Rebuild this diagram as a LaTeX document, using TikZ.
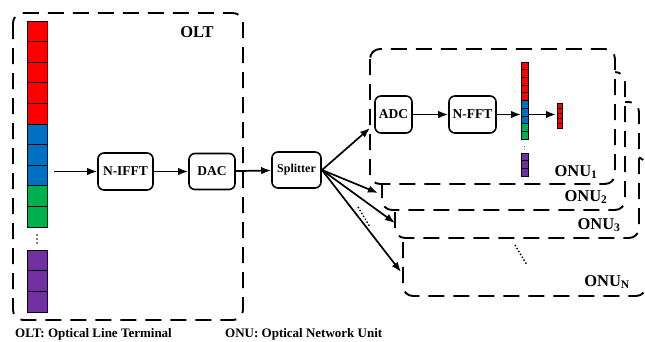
\documentclass[tikz,border=0pt]{standalone}
\usepackage{fontspec}
\setmainfont{Liberation Serif}
\usetikzlibrary{arrows.meta}
\definecolor{cred}{RGB}{255,0,0}
\definecolor{cblue}{RGB}{0,112,192}
\definecolor{cgreen}{RGB}{0,176,80}
\definecolor{cpurple}{RGB}{112,48,160}
\tikzset{
  dbox/.style={draw=black, line width=1.9pt, dash pattern=on 16pt off 9pt, rounded corners=10pt, fill=white},
  blk/.style={draw=black, line width=1.6pt, rounded corners=6pt, fill=white, inner sep=0pt,
    font=\bfseries\fontsize{13.5}{13.5}\selectfont},
  arr/.style={line width=1.7pt, -{Latex[length=10pt,width=7.5pt]}},
  cell/.style={draw=black, line width=0.8pt},
  lbl/.style={font=\bfseries\fontsize{16.5}{16.5}\selectfont, inner sep=0pt},
  foot/.style={font=\bfseries\fontsize{13}{13}\selectfont, inner sep=0pt, anchor=west},
}
\begin{document}
\begin{tikzpicture}[x=1pt,y=-1pt]
\useasboundingbox (0,0) rectangle (645,341);
% OLT box
\draw[dbox] (13,13) rectangle (243,320);
\node[lbl] (oltlbl) at (197,32) {OLT};
% OLT column
\foreach \i in {0,...,4} {\draw[cell,fill=cred] (27,{21+20.6*\i}) rectangle (47,{21+20.6*(\i+1)});}
\foreach \i in {5,...,7} {\draw[cell,fill=cblue] (27,{21+20.6*\i}) rectangle (47,{21+20.6*(\i+1)});}
\foreach \i in {8,9} {\draw[cell,fill=cgreen] (27,{21+20.6*\i}) rectangle (47,{21+20.6*(\i+1)});}
\foreach \i in {0,1,2} {\draw[cell,fill=cpurple] (27,{250+20.67*\i}) rectangle (47,{250+20.67*(\i+1)});}
\foreach \y in {235,239,243} {\fill (37,\y) circle (0.9pt);}
% ONU boxes (back to front)
\draw[dbox] (403,157) rectangle (646,296);
\draw[dbox] (395,102) rectangle (639,238);
\draw[dbox] (382,72) rectangle (625,210);
\draw[dbox] (370,49) rectangle (615,184);
\node[lbl] (onu1) at (576,172) {ONU\textsubscript{1}};
\node[lbl] (onu2) at (586,197) {ONU\textsubscript{2}};
\node[lbl] (onu3) at (599,225) {ONU\textsubscript{3}};
\node[lbl] (onun) at (607,282) {ONU\textsubscript{N}};
\draw[line width=1.4pt, dotted] (515,245) -- (527,265);
% blocks
\node[blk, minimum width=55pt, minimum height=37pt] (ifft) at (125.5,171.5) {N-IFFT};
\node[blk, minimum width=46pt, minimum height=36pt] (dac) at (212,171.5) {DAC};
\node[blk, minimum width=49pt, minimum height=36pt, font=\bfseries\fontsize{12}{12}\selectfont] (split) at (296.5,170) {Splitter};
\node[blk, minimum width=37pt, minimum height=37pt] (adc) at (393.5,114.5) {ADC};
\node[blk, minimum width=47pt, minimum height=37pt] (fft) at (472.5,114.5) {N-FFT};
% ONU column
\foreach \i in {0,...,4} {\draw[cell,fill=cred] (521,{62+7.7*\i}) rectangle (528,{62+7.7*(\i+1)});}
\foreach \i in {5,...,7} {\draw[cell,fill=cblue] (521,{62+7.7*\i}) rectangle (528,{62+7.7*(\i+1)});}
\foreach \i in {8,9} {\draw[cell,fill=cgreen] (521,{62+7.7*\i}) rectangle (528,{62+7.7*(\i+1)});}
\foreach \i in {0,1,2} {\draw[cell,fill=cpurple] (521,{153+7.67*\i}) rectangle (528,{153+7.67*(\i+1)});}
\foreach \y in {146.5,149} {\fill (524.5,\y) circle (0.4pt);}
\foreach \i in {0,...,4} {\draw[cell,line width=0.6pt,fill=cred] (557,{103+5*\i}) rectangle (562,{103+5*(\i+1)});}
\coordinate (colin) at (521,114.5);
\coordinate (colout) at (528,114.5);
\coordinate (redin) at (556,114.5);
% connectors
\coordinate (src) at (54,171.5);
\draw[arr] (src) -- (ifft);
\draw[arr] (ifft) -- (dac);
\draw[arr] (dac) -- (split);
\coordinate (sp) at (322,170);
\coordinate (t1) at (370,128);
\coordinate (t2) at (378,193);
\coordinate (t3) at (395,223);
\coordinate (tn) at (401,272);
\draw[arr] (sp) -- (t1);
\draw[arr] (sp) -- (t2);
\draw[arr] (sp) -- (t3);
\draw[arr] (sp) -- (tn);
\coordinate (d1) at (358,207);
\coordinate (d2) at (370,227);
\draw[line width=1.4pt, dotted] (d1) -- (d2);
\draw[arr] (adc) -- (fft);
\draw[arr] (fft) -- (colin);
\draw[arr] (colout) -- (redin);
% footnotes
\node[foot] (f1) at (15,334) {OLT: Optical Line Terminal};
\node[foot] (f2) at (225,334) {ONU: Optical Network Unit};
\end{tikzpicture}
\end{document}
